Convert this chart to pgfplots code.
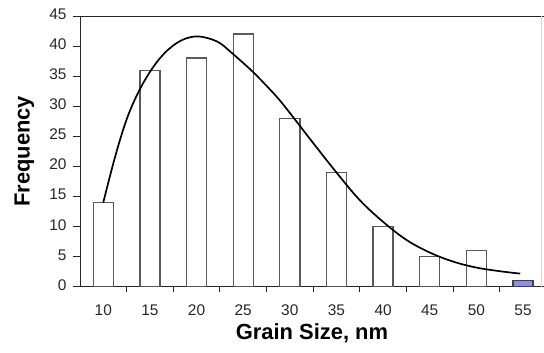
\documentclass[border=0pt]{standalone}
\usepackage{fontspec}
\setmainfont{Liberation Sans}
\usepackage{pgfplots}
\pgfplotsset{compat=1.18}
\definecolor{barblue}{RGB}{140,140,235}
\begin{document}
\begin{tikzpicture}
\begin{axis}[
  scale only axis,
  width=464.3bp, height=271bp,
  xmin=-0.5, xmax=9.45,
  ymin=0, ymax=45,
  axis x line*=bottom,
  axis y line*=left,
  axis line style={black!85, line width=0.9bp},
  ytick={0,5,...,45},
  xtick={0,...,9},
  xticklabels={10,15,20,25,30,35,40,45,50,55},
  minor xtick={0.5,1.5,...,8.5},
  tick align=outside,
  major tick length=7bp,
  minor tick length=5bp,
  x tick style={draw=none},
  minor x tick style={draw=black!85, line width=0.9bp},
  y tick style={black!85, line width=0.9bp},
  /pgf/number format/assume math mode=true,
  typeset ticklabels with strut,
  ticklabel style={font=\fontsize{15.5}{17}\selectfont, text=black!85},
  xticklabel style={yshift=-6bp},
  yticklabel style={xshift=-3bp},
  xlabel={\textbf{Grain Size, nm}},
  ylabel={\textbf{Frequency}},
  xlabel style={font=\fontsize{22}{24}\selectfont, at={(axis description cs:0.5,-0.17)}, anchor=center},
  ylabel style={font=\fontsize{22}{24}\selectfont, at={(axis description cs:-0.12,0.5)}, anchor=center},
  clip=false,
]
\addplot[ybar, bar shift=0pt, bar width=0.43, draw=black!65, line width=1.3bp, fill=white]
  coordinates {(0,14) (1,36) (2,38) (3,42) (4,28) (5,19) (6,10) (7,5) (8,6)};
\addplot[ybar, bar shift=0pt, bar width=0.43, draw=black!75, line width=1.3bp, fill=barblue]
  coordinates {(9,1)};
\addplot[smooth, black, line width=1.7bp, tension=0.6] coordinates {
  (0,14) (0.25,21.5) (0.5,27.8) (0.75,32.3) (1.0,35.7) (1.25,38.3) (1.5,40.1)
  (1.75,41.2) (2.0,41.6) (2.25,41.3) (2.5,40.5) (2.75,38.9) (3.0,37.2)
  (3.25,35.4) (3.5,33.4) (3.75,31.3) (4.0,28.9) (4.5,23.9) (5.0,19.0)
  (5.5,14.4) (6.0,10.8) (6.5,7.8) (7.0,5.7) (7.5,4.2) (8.0,3.2) (8.5,2.6) (8.94,2.2)};
\draw[black!85, line width=0.9bp] (rel axis cs:0,1) -- (rel axis cs:1,1);
\draw[black!15, line width=0.6bp] (rel axis cs:0.994,0) -- (rel axis cs:0.994,1);
\coordinate (ll) at (rel axis cs:0,0);
\coordinate (ur) at (rel axis cs:1,1);
\end{axis}
\pgfresetboundingbox
\useasboundingbox ([shift={(-80bp,-66bp)}]ll) rectangle ([shift={(0bp,16bp)}]ur);
\end{tikzpicture}
\end{document}
